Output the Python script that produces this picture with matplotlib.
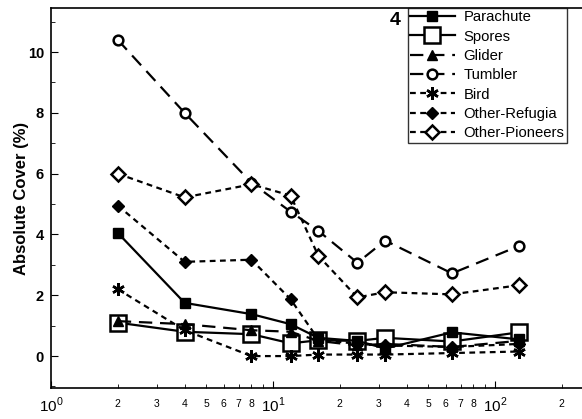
import matplotlib
matplotlib.use("Agg")
import matplotlib.pyplot as plt
import numpy as np

plt.rcParams["font.family"] = ["Liberation Sans", "DejaVu Sans"]
plt.rcParams["mathtext.fontset"] = "custom"
plt.rcParams["mathtext.rm"] = "Liberation Sans"

# sampling scale (x) and cover values per dispersal type
scale = [2, 4, 8, 12, 16, 24, 32, 64, 128]
parachute = [4.05, 1.75, 1.38, 1.05, 0.6, 0.5, 0.25, 0.78, 0.55]
spores = [1.1, 0.8, 0.72, 0.42, 0.52, 0.5, 0.6, 0.48, 0.78]
glider = [1.15, 1.05, 0.85, 0.8, 0.5, 0.35, 0.4, 0.3, 0.5]
tumbler = [10.4, 8.0, 5.7, 4.75, 4.12, 3.07, 3.8, 2.72, 3.62]
bird = [2.2, 0.85, 0.0, 0.0, 0.05, 0.05, 0.05, 0.1, 0.15]
refugia = [4.95, 3.1, 3.17, 1.87, 0.55, 0.4, 0.35, 0.3, 0.4]
pioneers = [6.0, 5.22, 5.65, 5.28, 3.3, 1.93, 2.1, 2.03, 2.33]

fig = plt.figure(figsize=(5.82, 4.19), dpi=100)
ax = fig.add_axes([51 / 582, 1 - 388 / 419, 1 - 51 / 582, (388 - 8) / 419])

lw = 1.6
long_dash = (0, (6, 3.5))
short_dash = (0, (2.6, 2.0))

ax.plot(scale, parachute, color="black", lw=lw, ls="-", marker="s", ms=7.5,
        mfc="black", mec="black", label="Parachute", zorder=4)
ax.plot(scale, spores, color="black", lw=lw, ls="-", marker="s", ms=11,
        mfc="white", mec="black", mew=1.8, label="Spores", zorder=3)
ax.plot(scale, glider, color="black", lw=lw, ls=long_dash, marker="^", ms=7,
        mfc="black", mec="black", label="Glider", zorder=5)
ax.plot(scale, tumbler, color="black", lw=lw, ls=long_dash, marker="o", ms=7,
        mfc="white", mec="black", mew=1.8, label="Tumbler", zorder=3)
ax.plot(scale, bird, color="black", lw=lw, ls=short_dash, marker=(6, 2, 0), ms=9,
        mec="black", mew=1.8, label="Bird", zorder=5)
ax.plot(scale, refugia, color="black", lw=lw, ls=short_dash, marker="D", ms=6,
        mfc="black", mec="black", label="Other-Refugia", zorder=4)
ax.plot(scale, pioneers, color="black", lw=lw, ls=short_dash, marker="D", ms=7,
        mfc="white", mec="black", mew=1.8, label="Other-Pioneers", zorder=3)

ax.set_xscale("log")
ax.set_xlim(1, 10 ** ((582 - 51) / 222))
ax.set_ylim(-1.05, 11.45)

ax.set_xticks([1, 10, 100])
ax.set_xticklabels(["$10^0$", "$10^1$", "$10^2$"], fontsize=11)
minor = [m * d for d in (1, 10, 100) for m in range(2, 10)]
minor = [v for v in minor if v < 250]
ax.set_xticks(minor, minor=True)
ax.set_xticklabels([str(v)[0] if str(v)[0] != "9" else "" for v in minor],
                   minor=True, fontsize=7.5)
ax.tick_params(axis="x", which="major", direction="in", length=5, pad=5.5)
ax.tick_params(axis="x", which="minor", direction="in", length=3, pad=8)

ax.set_yticks([0, 2, 4, 6, 8, 10])
ax.set_yticks(range(-1, 12), minor=True)
ax.tick_params(axis="y", which="major", direction="in", length=5, labelsize=10.5, pad=5)
ax.tick_params(axis="y", which="minor", direction="in", length=3)
for t in ax.get_yticklabels():
    t.set_fontweight("bold")

ax.set_ylabel("Absolute Cover (%)", fontsize=12, fontweight="bold", labelpad=-1)
ax.spines["right"].set_visible(False)
for s in ("left", "bottom", "top"):
    ax.spines[s].set_linewidth(1.2)

ax.text(0.638, 0.99, "4", transform=ax.transAxes, fontsize=14, fontweight="bold",
        ha="left", va="top")

leg = ax.legend(loc="upper left", bbox_to_anchor=(0.672, 1.0), fontsize=10.7,
                frameon=True, fancybox=False, edgecolor="black", borderpad=0.15,
                labelspacing=0.36, handlelength=3.0, handletextpad=0.6,
                borderaxespad=0)
leg.get_frame().set_linewidth(1.0)

fig.savefig("out.png", dpi=100)
